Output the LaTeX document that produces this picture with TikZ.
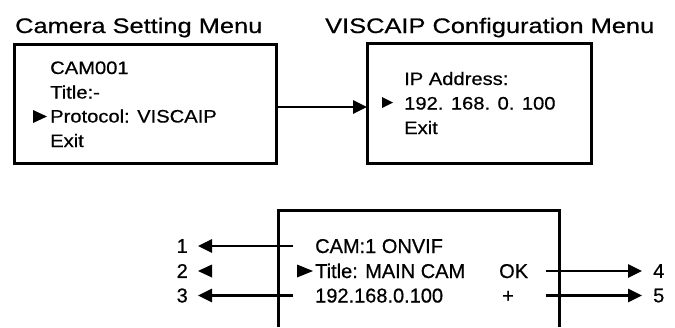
\documentclass[tikz,border=0pt]{standalone}
\usepackage{fontspec}
\setmainfont[FakeBold=0.6]{Liberation Sans}
\newfontfamily\titlefont[FakeStretch=1.21,FakeBold=0.6]{Liberation Sans}
\newfontfamily\menufont[FakeStretch=1.12,FakeBold=0.6]{Liberation Sans}
\usetikzlibrary{arrows.meta}
\begin{document}
\begin{tikzpicture}[x=1pt,y=-1pt,
  frame/.style={line width=3pt},
  arr/.style={line width=2.8pt,-{Triangle[length=14pt,width=13pt]}},
  heading/.style={anchor=base west,inner sep=0pt,font=\titlefont\fontsize{21pt}{21pt}\selectfont},
  menutext/.style={anchor=base west,inner sep=0pt,font=\menufont\fontsize{18pt}{18pt}\selectfont},
  osdtext/.style={anchor=base west,inner sep=0pt,font=\fontsize{20pt}{20pt}\selectfont},
  numlabel/.style={inner ysep=0pt,font=\fontsize{20pt}{20pt}\selectfont}]
\useasboundingbox (0,0) rectangle (675,327);

% headings
\node[heading] (h1) at (15,33) {Camera Setting Menu};
\node[heading] (h2) at (325,33) {VISCAIP Configuration Menu};

% camera setting menu
\draw[frame] (14,44) rectangle (276,163);
\coordinate (m1r) at (276,107);
\node[menutext] (cam) at (50,74) {CAM001};
\node[menutext] (ttl) at (50,98.5) {Title:-};
\node[menutext] (prot) at (50,122.5) {Protocol: VISCAIP};
\node[menutext] (ex1) at (50,147) {Exit};
\fill (33,110) -- (47,116.5) -- (33,123) -- cycle;

% VISCAIP configuration menu
\draw[frame] (367,43) rectangle (591,163);
\coordinate (m2l) at (367,107);
\node[menutext] (ipa) at (404,85) {IP Address:};
\node[menutext] (ipv) at (404,109.5) {192. 168. 0. 100};
\node[menutext] (ex2) at (404,134) {Exit};
\fill (382,97) -- (393,102.5) -- (382,108) -- cycle;

\draw[arr] (m1r) -- (m2l);

% on-screen display, lower part cut off
\draw[frame] (278,327) -- (278,210) -- (559,210) -- (559,327);
\node[osdtext] (r1) at (315,253) {CAM:1 ONVIF};
\node[osdtext] (r2) at (315,278) {Title: MAIN CAM};
\node[osdtext] (r3) at (315,302.5) {192.168.0.100};
\node[osdtext] (ok) at (499,278) {OK};
\node[osdtext] (plus) at (502,302.5) {+};
\fill (297,264.5) -- (313,271) -- (297,277.5) -- cycle;

% key labels
\node[numlabel,anchor=east,inner xsep=10pt] (k1) at (198,246) {1};
\node[numlabel,anchor=east,inner xsep=10pt] (k2) at (198,271) {2};
\node[numlabel,anchor=east,inner xsep=10pt] (k3) at (198,295.5) {3};
\node[numlabel,anchor=west,inner xsep=11pt] (k4) at (642,271) {4};
\node[numlabel,anchor=west,inner xsep=11pt] (k5) at (642,295.5) {5};

\coordinate (c1) at (293,246);
\coordinate (c3) at (293,295.5);
\coordinate (c4) at (546,271);
\coordinate (c5) at (546,295.5);
\draw[arr] (c1) -- (c1 -| k1.east);
\draw[arr] (c3) -- (c3 -| k3.east);
\draw[arr] (c4) -- (c4 -| k4.west);
\draw[arr] (c5) -- (c5 -| k5.west);
\fill (k2.east) -- ++(14,-6.5) -- ++(0,13) -- cycle;
\end{tikzpicture}
\end{document}
